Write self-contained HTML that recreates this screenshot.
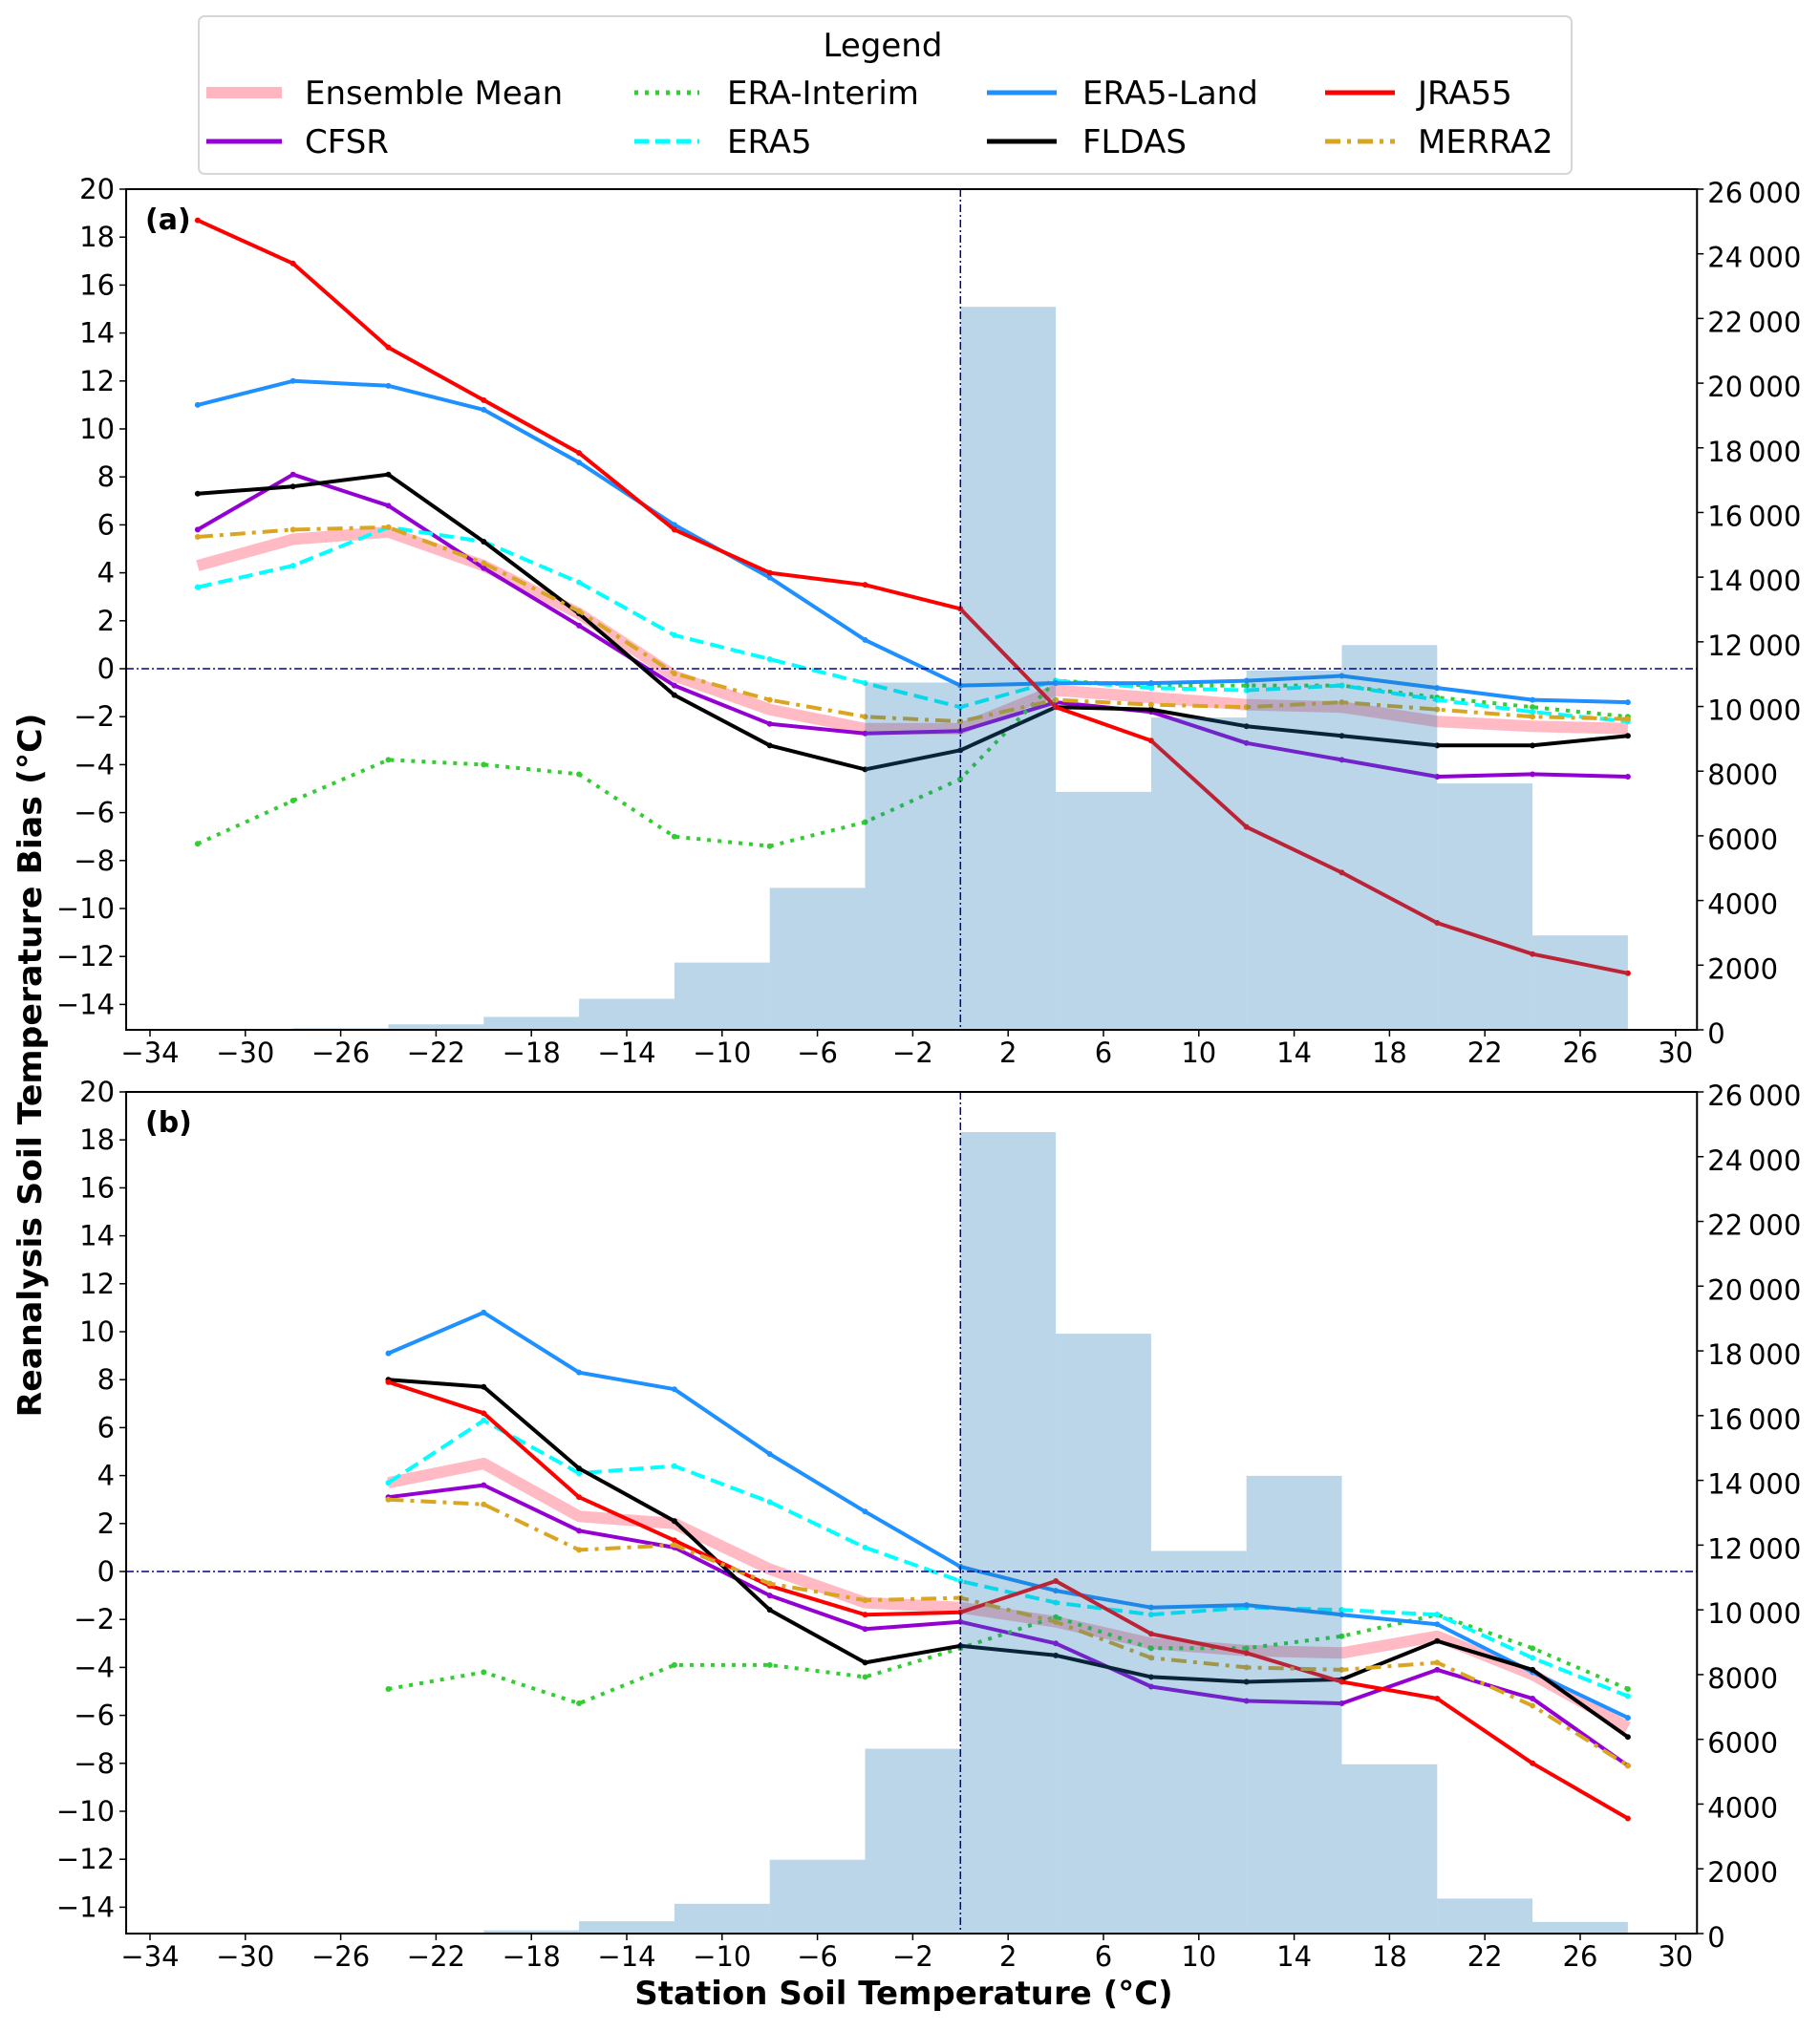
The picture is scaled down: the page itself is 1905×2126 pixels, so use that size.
<!DOCTYPE html>
<html><head><meta charset="utf-8"><style>
body{margin:0;background:#fff}
svg text{font-family:"DejaVu Sans","Liberation Sans",sans-serif}
</style></head><body>
<svg id="chart" width="1905" height="2121" viewBox="0 0 1905 2121" xmlns="http://www.w3.org/2000/svg">
<rect width="1905" height="2121" fill="#fff"/>
<g id="legend">
<rect x="208" y="17" width="1437" height="165" rx="6" fill="#fff" stroke="#d6d6d6" stroke-width="2"/>
<text x="924" y="59" font-size="34" text-anchor="middle">Legend</text>
</g>
<text x="946" y="2098" font-size="34" font-weight="bold" text-anchor="middle">Station Soil Temperature (°C)</text>
<text transform="translate(43,1115) rotate(-90)" font-size="34" font-weight="bold" text-anchor="middle" textLength="737" lengthAdjust="spacingAndGlyphs">Reanalysis Soil Temperature Bias (°C)</text>
</svg>
<script>
const xPoints = [-32,-28,-24,-20,-16,-12,-8,-4,0,4,8,12,16,20,24,28];
const binEdges = [-28,-24,-20,-16,-12,-8,-4,0,4,8,12,16,20,24,28];
const xTicks = [-34,-30,-26,-22,-18,-14,-10,-6,-2,2,6,10,14,18,22,26,30];
const yTicks = [-14,-12,-10,-8,-6,-4,-2,0,2,4,6,8,10,12,14,16,18,20];
const rTicks = [0,2000,4000,6000,8000,10000,12000,14000,16000,18000,20000,22000,24000,26000];
const seriesNames = ["Ensemble Mean","CFSR","ERA-Interim","ERA5","ERA5-Land","FLDAS","JRA55","MERRA2"];
// Panel (a)
const aEnsemble = [4.3,5.4,5.7,4.3,2.3,-0.3,-1.7,-2.5,-2.5,-0.9,-1.2,-1.5,-1.6,-2.2,-2.4,-2.5];
const aCFSR = [5.8,8.1,6.8,4.2,1.8,-0.7,-2.3,-2.7,-2.6,-1.4,-1.8,-3.1,-3.8,-4.5,-4.4,-4.5];
const aERAInterim = [-7.3,-5.5,-3.8,-4.0,-4.4,-7.0,-7.4,-6.4,-4.6,-0.5,-0.7,-0.7,-0.7,-1.2,-1.6,-2.0];
const aERA5 = [3.4,4.3,5.9,5.3,3.6,1.4,0.4,-0.6,-1.6,-0.5,-0.8,-0.9,-0.7,-1.3,-1.8,-2.2];
const aERA5Land = [11.0,12.0,11.8,10.8,8.6,6.0,3.8,1.2,-0.7,-0.6,-0.6,-0.5,-0.3,-0.8,-1.3,-1.4];
const aFLDAS = [7.3,7.6,8.1,5.3,2.3,-1.1,-3.2,-4.2,-3.4,-1.6,-1.7,-2.4,-2.8,-3.2,-3.2,-2.8];
const aJRA55 = [18.7,16.9,13.4,11.2,9.0,5.8,4.0,3.5,2.5,-1.6,-3.0,-6.6,-8.5,-10.6,-11.9,-12.7];
const aMERRA2 = [5.5,5.8,5.9,4.4,2.4,-0.2,-1.3,-2.0,-2.2,-1.3,-1.5,-1.6,-1.4,-1.7,-2.0,-2.1];
const aCounts = [50,170,400,960,2080,4390,10740,22360,7360,9660,11110,11900,7620,2920];
// Panel (b) (values start at x=-24; null = no data)
const bEnsemble = [null,null,3.7,4.5,2.3,2.0,0.1,-1.3,-1.5,-2.1,-3.0,-3.3,-3.4,-2.7,-4.3,-6.5];
const bCFSR = [null,null,3.1,3.6,1.7,1.0,-1.0,-2.4,-2.1,-3.0,-4.8,-5.4,-5.5,-4.1,-5.3,-8.1];
const bERAInterim = [null,null,-4.9,-4.2,-5.5,-3.9,-3.9,-4.4,-3.2,-1.9,-3.2,-3.2,-2.7,-1.8,-3.2,-4.9];
const bERA5 = [null,null,3.7,6.3,4.1,4.4,2.9,1.0,-0.4,-1.3,-1.8,-1.5,-1.6,-1.8,-3.6,-5.2];
const bERA5Land = [null,null,9.1,10.8,8.3,7.6,4.9,2.5,0.2,-0.8,-1.5,-1.4,-1.8,-2.2,-4.2,-6.1];
const bFLDAS = [null,null,8.0,7.7,4.3,2.1,-1.6,-3.8,-3.1,-3.5,-4.4,-4.6,-4.5,-2.9,-4.1,-6.9];
const bJRA55 = [null,null,7.9,6.6,3.1,1.3,-0.6,-1.8,-1.7,-0.4,-2.6,-3.4,-4.6,-5.3,-8.0,-10.3];
const bMERRA2 = [null,null,3.0,2.8,0.9,1.1,-0.5,-1.2,-1.1,-2.1,-3.6,-4.0,-4.1,-3.8,-5.6,-8.1];
const bCounts = [10,20,100,380,920,2280,5710,24760,18530,11820,14140,5230,1080,360];

const NS = "http://www.w3.org/2000/svg";
const svg = document.getElementById("chart");
const styles = [
 {c:"#ffb6c1",w:12,d:""},{c:"#9400d3",w:4,d:""},{c:"#32cd32",w:4,d:"4,7"},{c:"#00ffff",w:4,d:"15,7"},
 {c:"#1e90ff",w:4,d:""},{c:"#000000",w:4,d:""},{c:"#ff0000",w:4,d:""},{c:"#daa520",w:4,d:"16,7,4,7"}];
function mk(tag, attrs, parent){const e=document.createElementNS(NS,tag);for(const k in attrs)e.setAttribute(k,attrs[k]);(parent||svg).appendChild(e);return e;}
const X0=157, XS=24.95, YS=25.1;
function xs(v){return X0+(v+34)*XS;}
function panel(top, bottom, label, series, counts, key){
  const ys=v=>top+(20-v)*YS;
  const rs=v=>bottom-v*(bottom-top)/26000;
  const left=xs(-35), right=xs(30.9);
  const g=mk("g",{});
  
  
  series.forEach((s,i)=>{
    let d="";
    s.forEach((v,j)=>{ if(v===null) return; d+=(d?"L":"M")+xs(xPoints[j]).toFixed(1)+","+ys(v).toFixed(1); });
    const st=styles[i];
    const p=mk("path",{d:d,fill:"none",stroke:st.c,"stroke-width":st.w,"stroke-linejoin":"round","stroke-dasharray":st.d,opacity:i===0?0.95:1},g);
    
    
    if(i>0) s.forEach((v,j)=>{ if(v===null) return; mk("circle",{cx:xs(xPoints[j]),cy:ys(v),r:3,fill:st.c},g); });
  });
  counts.forEach((c,k)=>{
    const x1=xs(binEdges[k]), x2=xs(binEdges[k]+4);
    const r=mk("rect",{x:x1,y:rs(c),width:x2-x1,height:bottom-rs(c),fill:"#1f77b4","fill-opacity":0.3},g);
    
    
  });
  const h=mk("line",{x1:left,x2:right,y1:ys(0),y2:ys(0),stroke:"#00008b","stroke-width":1.5,"stroke-dasharray":"8,3,2,3"},g);
  
  
  const vl=mk("line",{x1:xs(0),x2:xs(0),y1:top,y2:bottom,stroke:"#00008b","stroke-width":1.5,"stroke-dasharray":"8,3,2,3"},g);
  
  
  const fr=mk("rect",{x:left,y:top,width:right-left,height:bottom-top,fill:"none",stroke:"#000","stroke-width":2},g);
  
  
  xTicks.forEach(t=>{
    mk("line",{x1:xs(t),x2:xs(t),y1:bottom,y2:bottom+7,stroke:"#000","stroke-width":1.5},g);
    const tx=mk("text",{x:xs(t),y:bottom+34,"font-size":29,"text-anchor":"middle"},g);
    tx.textContent=(t<0?"\u2212"+(-t):t);
    
    
  });
  yTicks.forEach(t=>{
    mk("line",{x1:left-7,x2:left,y1:ys(t),y2:ys(t),stroke:"#000","stroke-width":1.5},g);
    const tx=mk("text",{x:left-12,y:ys(t)+10,"font-size":29,"text-anchor":"end"},g);
    tx.textContent=(t<0?"\u2212"+(-t):t);
    
    
  });
  rTicks.forEach(t=>{
    mk("line",{x1:right,x2:right+7,y1:rs(t),y2:rs(t),stroke:"#000","stroke-width":1.5},g);
    const tx=mk("text",{x:right+11,y:rs(t)+14,"font-size":29},g);
    tx.textContent=t>=10000?Math.floor(t/1000)+"\u2009"+String(t%1000).padStart(3,"0"):String(t);
    
    
  });
  const lb=mk("text",{x:152,y:top+42,"font-size":30,"font-weight":"bold"},g);
  lb.textContent=label;
  
  
}
panel(198,1078,"(a)",[aEnsemble,aCFSR,aERAInterim,aERA5,aERA5Land,aFLDAS,aJRA55,aMERRA2],aCounts,"a");
panel(1143,2024,"(b)",[bEnsemble,bCFSR,bERAInterim,bERA5,bERA5Land,bFLDAS,bJRA55,bMERRA2],bCounts,"b");
const lg=document.getElementById("legend");
const colX=[[216,295,319],[664,732,761],[1033,1106,1133],[1387,1460,1484]];
const rowY=[97,148];
const order=[[0,0,0],[1,0,1],[2,1,0],[3,1,1],[4,2,0],[5,2,1],[6,3,0],[7,3,1]];
order.forEach(o=>{
  const st=styles[o[0]], cx=colX[o[1]], y=rowY[o[2]];
  const e=mk("g",{},lg);
  
  
  mk("line",{x1:cx[0],x2:cx[1],y1:y,y2:y,stroke:st.c,"stroke-width":o[0]===0?12:5,"stroke-dasharray":st.d},e);
  const t=mk("text",{x:cx[2],y:y+12,"font-size":34},e);
  t.textContent=seriesNames[o[0]];
});
</script>
</body></html>
